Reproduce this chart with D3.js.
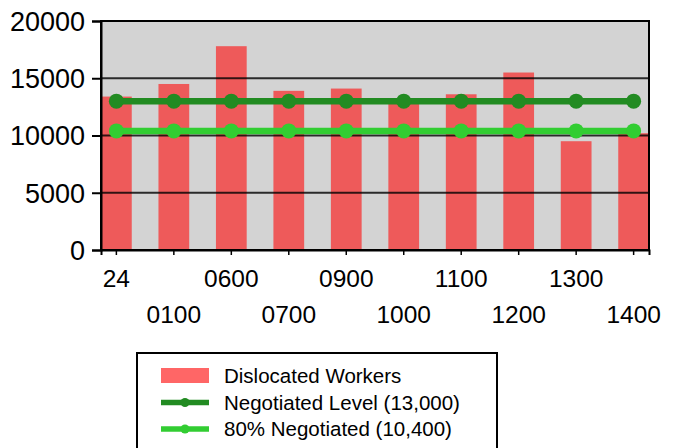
<!DOCTYPE html>
<html>
<head>
<meta charset="utf-8">
<script src="https://cdn.jsdelivr.net/npm/d3@7"></script>
<style>
    body { margin: 0; background: #fff; }
    text { font-family: "Liberation Sans", Arial, sans-serif; fill: #000; }
</style>
</head>
<body>
<svg id="chart" width="680" height="448"></svg>
<script>
"use strict";

// Data
const categories = ["24", "0100", "0600", "0700", "0900", "1000", "1100", "1200", "1300", "1400"];
const dislocated = [13400, 14500, 17800, 13900, 14100, 13000, 13600, 15500, 9500, 10200];
const negotiated = [13000, 13000, 13000, 13000, 13000, 13000, 13000, 13000, 13000, 13000];
const negotiated80 = [10400, 10400, 10400, 10400, 10400, 10400, 10400, 10400, 10400, 10400];
const yTicks = [0, 5000, 10000, 15000, 20000];
const legendLabels = ["Dislocated Workers", "Negotiated Level (13,000)", "80% Negotiated (10,400)"];

const BAR_COLOR = "#ee5a5a";
const DARK_GREEN = "#228b22";
const LIGHT_GREEN = "#32cd32";

const plot = { left: 101, right: 649, top: 21, bottom: 250 };

const svg = d3.select("#chart");

const x = d3.scaleBand()
    .domain(categories)
    .range([plot.left, plot.right])
    .paddingInner(0.465)
    .paddingOuter(0);
const y = d3.scaleLinear().domain([0, 20000]).range([plot.bottom, plot.top]);
const cx = (c) => x(c) + x.bandwidth() / 2;

// plot background
svg.append("rect")
    .attr("x", plot.left)
    .attr("y", plot.top)
    .attr("width", plot.right - plot.left)
    .attr("height", plot.bottom - plot.top)
    .attr("fill", "#d3d3d3");

// bars
svg.append("g").selectAll("rect")
    .data(dislocated)
    .join("rect")
    .attr("x", (d, i) => x(categories[i]))
    .attr("y", (d) => y(d))
    .attr("width", x.bandwidth())
    .attr("height", (d) => y(0) - y(d))
    .attr("fill", BAR_COLOR);

// gridlines drawn over the bars so they show through dark
svg.append("g").selectAll("line")
    .data(yTicks.slice(1, -1))
    .join("line")
    .attr("x1", plot.left)
    .attr("x2", plot.right)
    .attr("y1", (d) => y(d))
    .attr("y2", (d) => y(d))
    .attr("stroke", "#000")
    .attr("stroke-opacity", 0.8)
    .attr("stroke-width", 2);

// plot frame
svg.append("rect")
    .attr("x", plot.left)
    .attr("y", plot.top)
    .attr("width", plot.right - plot.left)
    .attr("height", plot.bottom - plot.top)
    .attr("fill", "none")
    .attr("stroke", "#000")
    .attr("stroke-width", 2);

// y axis
const yAxis = d3.axisLeft(y).tickValues(yTicks).tickSize(9).tickPadding(7).tickFormat(d3.format("d"));
const gy = svg.append("g")
    .attr("transform", `translate(${plot.left},0)`)
    .call(yAxis);
gy.select(".domain").attr("stroke-width", 2);
gy.selectAll(".tick line").attr("stroke-width", 2);
gy.selectAll("text").style("font-size", "27px").attr("dy", "0.35em");

// x axis with staggered labels
const xAxis = d3.axisBottom(x).tickSize(5).tickPadding(0);
const gx = svg.append("g")
    .attr("transform", `translate(0,${plot.bottom})`)
    .call(xAxis);
gx.select(".domain").attr("stroke-width", 2);
gx.selectAll(".tick line").attr("stroke-width", 1.5);
gx.selectAll("text")
    .style("font-size", "24.5px")
    .attr("dy", "0.35em")
    .attr("y", (d, i) => (i % 2 === 0 ? 28 : 64));

// lines with markers
const line = d3.line()
    .x((d, i) => cx(categories[i]))
    .y((d) => y(d));

const drawSeries = (values, color) => {
    svg.append("path")
        .datum(values)
        .attr("d", line)
        .attr("fill", "none")
        .attr("stroke", color)
        .attr("stroke-width", 6.5);
    svg.append("g").selectAll("circle")
        .data(values)
        .join("circle")
        .attr("cx", (d, i) => cx(categories[i]))
        .attr("cy", (d) => y(d))
        .attr("r", 7.5)
        .attr("fill", color);
};
drawSeries(negotiated, DARK_GREEN);
drawSeries(negotiated80, LIGHT_GREEN);

// legend
const legend = svg.append("g");
legend.append("rect")
    .attr("x", 137)
    .attr("y", 353)
    .attr("width", 360)
    .attr("height", 120)
    .attr("fill", "#fff")
    .attr("stroke", "#000")
    .attr("stroke-width", 2);

const legendRows = [375.5, 402.5, 429];
legend.append("rect")
    .attr("x", 161)
    .attr("y", legendRows[0] - 7.5)
    .attr("width", 48)
    .attr("height", 15)
    .attr("fill", "#ff6666");

[DARK_GREEN, LIGHT_GREEN].forEach((c, i) => {
    const yy = legendRows[i + 1];
    legend.append("line")
        .attr("x1", 161).attr("x2", 209)
        .attr("y1", yy).attr("y2", yy)
        .attr("stroke", c)
        .attr("stroke-width", 5.5);
    legend.append("circle")
        .attr("cx", 185).attr("cy", yy)
        .attr("r", 4.5)
        .attr("fill", c);
});

legend.selectAll("text.lbl")
    .data(legendLabels)
    .join("text")
    .attr("class", "lbl")
    .attr("x", 224)
    .attr("y", (d, i) => legendRows[i])
    .attr("dy", "0.35em")
    .style("font-size", "20.5px")
    .text((d) => d);
</script>
</body>
</html>
